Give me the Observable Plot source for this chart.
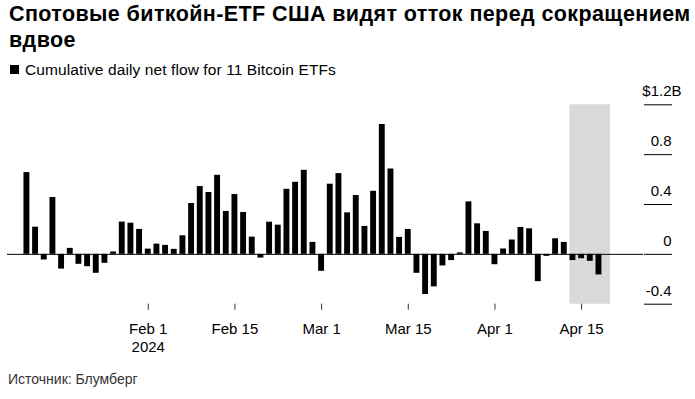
<!DOCTYPE html>
<html><head><meta charset="utf-8">
<script src="https://cdn.jsdelivr.net/npm/d3@7"></script>
<script src="https://cdn.jsdelivr.net/npm/@observablehq/plot@0.6"></script>
<style>
body{margin:0;background:#fff;font-family:"Liberation Sans",Arial,sans-serif;color:#000;}
#wrap{position:relative;width:695px;height:399px;overflow:hidden;background:#fff;}
#title{position:absolute;left:9px;top:1px;width:686px;font-weight:bold;font-size:21.5px;letter-spacing:0.4px;line-height:26px;white-space:nowrap;}
#sq{position:absolute;left:10px;top:65px;width:9px;height:9px;background:#000;}
#legend{position:absolute;left:25px;top:61px;font-size:15.5px;letter-spacing:0.1px;line-height:18px;white-space:nowrap;}
#chart{position:absolute;left:0;top:80px;}
#source{position:absolute;left:8px;top:371px;font-size:14px;line-height:16px;color:#333;white-space:nowrap;}
</style></head>
<body>
<div id="wrap">
<div id="title">Спотовые биткойн-ETF США видят отток перед сокращением<br>вдвое</div>
<div id="sq"></div>
<div id="legend">Cumulative daily net flow for 11 Bitcoin ETFs</div>
<div id="chart"></div>
<div id="source">Источник: Блумберг</div>
</div>
<script>
// Trading days (the last one, Apr 18, has no flow yet but is inside the shaded window)
const days = [
"2024-01-11","2024-01-12","2024-01-16","2024-01-17","2024-01-18","2024-01-19","2024-01-22","2024-01-23","2024-01-24","2024-01-25","2024-01-26","2024-01-29","2024-01-30","2024-01-31",
"2024-02-01","2024-02-02","2024-02-05","2024-02-06","2024-02-07","2024-02-08","2024-02-09","2024-02-12","2024-02-13","2024-02-14","2024-02-15","2024-02-16","2024-02-20","2024-02-21","2024-02-22","2024-02-23","2024-02-26","2024-02-27","2024-02-28","2024-02-29",
"2024-03-01","2024-03-04","2024-03-05","2024-03-06","2024-03-07","2024-03-08","2024-03-11","2024-03-12","2024-03-13","2024-03-14","2024-03-15","2024-03-18","2024-03-19","2024-03-20","2024-03-21","2024-03-22","2024-03-25","2024-03-26","2024-03-27","2024-03-28",
"2024-04-01","2024-04-02","2024-04-03","2024-04-04","2024-04-05","2024-04-08","2024-04-09","2024-04-10","2024-04-11","2024-04-12","2024-04-15","2024-04-16","2024-04-17","2024-04-18"
];
// Daily net flow, $ billions
const flows = [
0.656,0.218,-0.045,0.456,-0.118,0.048,-0.080,-0.099,-0.152,-0.072,0.019,0.259,0.250,0.200,
0.042,0.082,0.072,0.040,0.149,0.408,0.544,0.496,0.634,0.344,0.480,0.336,0.138,-0.030,0.258,0.234,0.522,0.578,0.674,0.096,
-0.136,0.563,0.648,0.333,0.472,0.224,0.506,1.042,0.685,0.136,0.200,-0.152,-0.322,-0.261,-0.093,-0.050,0.012,0.421,0.245,0.184,
-0.083,0.043,0.115,0.216,0.205,-0.219,-0.016,0.125,0.096,-0.050,-0.035,-0.056,-0.165
];
const shadeRange = ["2024-04-12","2024-04-18"];
const xTickDays = ["2024-02-01","2024-02-15","2024-03-01","2024-03-15","2024-04-01","2024-04-15"];
const xTickLabels = ["Feb 1\n2024","Feb 15","Mar 1","Mar 15","Apr 1","Apr 15"];
const yTicks = [-0.4,0,0.4,0.8,1.2];
const yTickLabels = ["-0.4","0","0.4","0.8","$1.2"];
const yUnit = "B";

const data = flows.map((v,i)=>({i, day: days[i], v}));
const idx = d => days.indexOf(d);
const hw = 0.34;
const shade = [{s: idx(shadeRange[0]), e: idx(shadeRange[1])}];
const xTickIdx = xTickDays.map(idx);

const chart = Plot.plot({
  width: 695,
  height: 282,
  marginLeft: 7,
  marginRight: 52,
  marginTop: 24.3,
  marginBottom: 58.3,
  style: {fontFamily: '"Liberation Sans", Arial, sans-serif', fontSize: "15px", background: "#fff", color: "#000", overflow: "visible"},
  x: {type: "linear", domain: [-2.24, 71.14], label: null},
  y: {domain: [-0.4, 1.2], label: null},
  marks: [
    Plot.rect(shade, {x1: d => d.s - hw, x2: d => d.e + hw, y1: -0.4, y2: 1.2, fill: "#d9d9d9"}),
    Plot.rect(data, {x1: d => d.i - hw, x2: d => d.i + hw, y1: 0, y2: "v", fill: "#000"}),
    Plot.ruleY([0], {stroke: "#000", strokeWidth: 1}),
    Plot.axisX({ticks: xTickIdx, tickFormat: d => xTickLabels[xTickIdx.indexOf(d)], tickSize: 6, tickPadding: 10, fontSize: 15, lineHeight: 1.25, stroke: "#333", label: null}),
    Plot.axisY({anchor: "right", ticks: yTicks, tickSize: 28, tickFormat: () => "", stroke: "#000", label: null}),
    Plot.axisY({anchor: "right", ticks: yTicks, tickSize: 0, tickPadding: 0, dx: 28, textAnchor: "end", dy: -13.5, fontSize: 15, tickFormat: d => yTickLabels[yTicks.indexOf(d)], label: null}),
    Plot.text([yTicks[yTicks.length-1]], {y: d => d, text: () => yUnit, frameAnchor: "right", dx: 28, dy: -13.5, textAnchor: "start", fontSize: 15})
  ]
});
document.getElementById("chart").appendChild(chart);
</script>
</body></html>
